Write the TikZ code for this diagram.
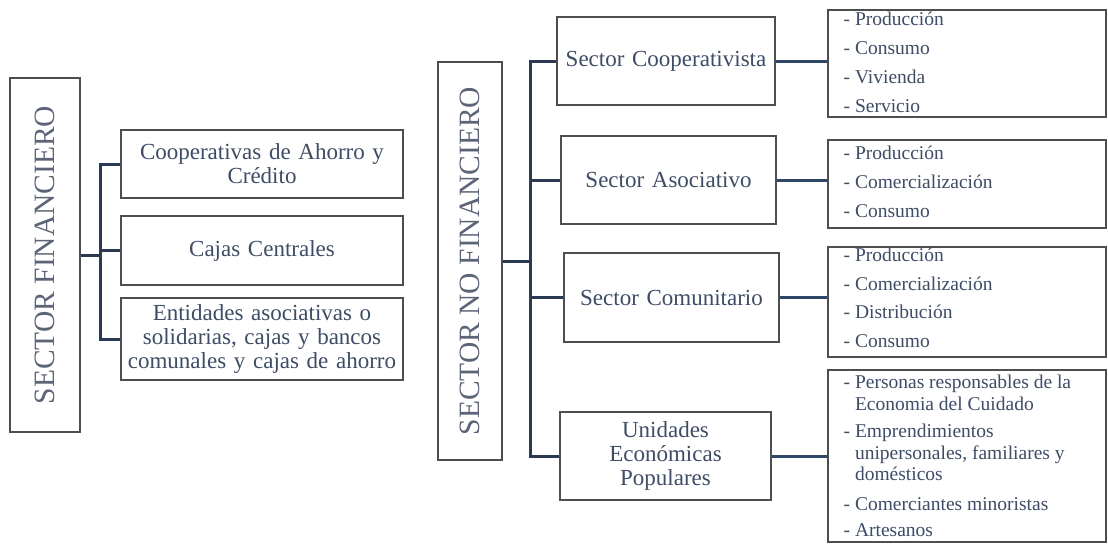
\documentclass[tikz,border=0pt]{standalone}
\usepackage{fontspec}
\setmainfont{Liberation Serif}
\definecolor{boxc}{HTML}{4E4E4E}
\definecolor{connc}{HTML}{2B3A52}
\definecolor{conn2c}{HTML}{2E4668}
\definecolor{txtc}{HTML}{3E4C66}
\definecolor{vtxtc}{HTML}{5B6577}
\newcommand{\ilist}[1]{\begin{tabular}{@{}l@{\hspace{5pt}}l@{}}#1\end{tabular}}
\begin{document}
\begin{tikzpicture}[x=1pt,y=-1pt,
  box/.style={draw=boxc, line width=1.3pt, inner sep=0pt, fill=white},
  conn/.style={draw=connc, line width=3pt},
  conntwo/.style={draw=conn2c, line width=3pt},
  mtext/.style={text=txtc, font=\fontsize{23}{24}\selectfont, align=center, text width=270pt},
  vtext/.style={text=vtxtc, font=\fontsize{29.5}{30}\selectfont, rotate=90, inner sep=0pt},
  items/.style={text=txtc, font=\fontsize{19.5}{21.5}\selectfont, inner sep=0pt, anchor=north west, align=left}
]
\useasboundingbox (0,0) rectangle (1108,544);
\fill[white] (0,0) rectangle (1108,544);

% left group
\node[box, minimum width=70pt, minimum height=354pt] (lf) at (45,255) {};
\node[vtext] (lft) at (lf.center) {SECTOR FINANCIERO};
\node[box, minimum width=282pt, minimum height=68pt, mtext] (b1) at (262,164) {Cooperativas de Ahorro y\\Crédito};
\node[box, minimum width=282pt, minimum height=69pt, mtext] (b2) at (262,250.5) {Cajas Centrales};
\node[box, minimum width=282pt, minimum height=82pt, mtext] (b3) at (262,339) {Entidades asociativas o\\solidarias, cajas y bancos\\comunales y cajas de ahorro};

\coordinate (j1) at (100,255);
\draw[conn] (lf.east) -- (j1);
\draw[conn] (b1.west) -| (j1 |- b3.west) -- (b3.west);
\draw[conn] (j1 |- b2.west) -- (b2.west);

% middle group
\node[box, minimum width=64pt, minimum height=398pt] (mf) at (470,261) {};
\node[vtext] (mft) at (mf.center) {SECTOR NO FINANCIERO};
\node[box, minimum width=218pt, minimum height=88pt, mtext, text width=210pt] (m1) at (666,61) {Sector Cooperativista};
\node[box, minimum width=215pt, minimum height=88pt, mtext, text width=210pt] (m2) at (668.5,180) {Sector Asociativo};
\node[box, minimum width=215pt, minimum height=89pt, mtext, text width=210pt] (m3) at (671.5,297.5) {Sector Comunitario};
\node[box, minimum width=211pt, minimum height=88pt, mtext, text width=205pt] (m4) at (665.5,456) {Unidades\\Económicas\\Populares};

\coordinate (j2) at (530,261);
\draw[conn] (mf.east) -- (j2);
\draw[conn] (m1.west) -| (j2 |- m4.west) -- (m4.west);
\draw[conn] (j2 |- m2.west) -- (m2.west);
\draw[conn] (j2 |- m3.west) -- (m3.west);

% right group
\node[box, minimum width=278pt, minimum height=107pt] (r1) at (967,63.5) {};
\node[box, minimum width=278pt, minimum height=88pt] (r2) at (967,184) {};
\node[box, minimum width=278pt, minimum height=110pt] (r3) at (967,302) {};
\node[box, minimum width=278pt, minimum height=172pt] (r4) at (967,456) {};

\draw[conntwo] (m1.east) -- (m1.east -| r1.west);
\draw[conntwo] (m2.east) -- (m2.east -| r2.west);
\draw[conntwo] (m3.east) -- (m3.east -| r3.west);
\draw[conntwo] (m4.east) -- (m4.east -| r4.west);

\node[items] (i1) at ([shift={(16,1)}]r1.north west) {\ilist{-&Producción\\[7.5pt]-&Consumo\\[7.5pt]-&Vivienda\\[7.5pt]-&Servicio}};
\node[items] (i2) at ([shift={(16,5)}]r2.north west) {\ilist{-&Producción\\[7.5pt]-&Comercialización\\[7.5pt]-&Consumo}};
\node[items] (i3) at ([shift={(16,0)}]r3.north west) {\ilist{-&Producción\\[7.5pt]-&Comercialización\\[6.5pt]-&Distribución\\[7.5pt]-&Consumo}};
\node[items] (i4) at ([shift={(16,4)}]r4.north west) {\ilist{-&Personas responsables de la\\&Economia del Cuidado\\[6pt]-&Emprendimientos\\&unipersonales, familiares y\\&domésticos\\[8pt]-&Comerciantes minoristas\\[4.5pt]-&Artesanos}};
\end{tikzpicture}
\end{document}
